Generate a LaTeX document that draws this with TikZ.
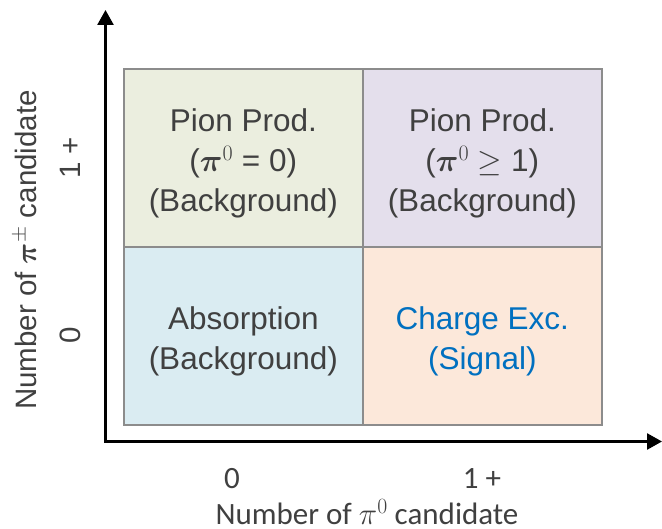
\RequirePackage{fix-cm}
\documentclass[tikz,border=0pt]{standalone}
\usepackage{amsmath,bm}
\usepackage{fontspec}
\setmainfont{Liberation Sans}
\newfontfamily\calfont{Carlito}
\usetikzlibrary{arrows.meta}
\definecolor{txtgrey}{HTML}{404040}
\definecolor{cellborder}{HTML}{8C8C8C}
\definecolor{fillA}{HTML}{EBEEDF}
\definecolor{fillB}{HTML}{E4DFEC}
\definecolor{fillC}{HTML}{DAECF2}
\definecolor{fillD}{HTML}{FCE8DA}
\definecolor{sigblue}{HTML}{0070C0}
\begin{document}
\begin{tikzpicture}[x=1pt,y=-1pt,
  cell/.style={draw=cellborder, line width=1.6pt, minimum width=239pt, minimum height=178pt, inner sep=0pt, anchor=north west},
  celltext/.style={text=txtgrey, align=center, inner sep=0pt, font=\fontsize{31.5}{40}\selectfont},
  axisline/.style={line width=2.6pt, -{Triangle[width=16pt,length=15pt]}},
  ylab/.style={text=txtgrey, rotate=90, inner sep=0pt, font=\fontsize{29.5}{34}\selectfont},
  xlab/.style={text=txtgrey, inner sep=0pt, font=\calfont\fontsize{31}{36}\selectfont}
]
\useasboundingbox (0,0) rectangle (662,529);
% cells
\node[cell, fill=fillA] (c1) at (123,68) {};
\node[cell, fill=fillB] (c2) at (362,68) {};
\node[cell, fill=fillC] (c3) at (123,246) {};
\node[cell, fill=fillD] (c4) at (362,246) {};
\node[celltext] (t1) at ([yshift=-6pt]c1.center) {Pion Prod.\\($\bm{\pi}^0$ = 0)\\(Background)};
\node[celltext] (t2) at ([yshift=-6pt]c2.center) {Pion Prod.\\($\bm{\pi}^0$ $\geq$ 1)\\(Background)};
\node[celltext] (t3) at ([yshift=-6pt]c3.center) {Absorption\\(Background)};
\node[celltext, text=sigblue] (t4) at ([yshift=-6pt]c4.center) {Charge Exc.\\(Signal)};
% axes
\coordinate (o) at (105.5,441.5);
\coordinate (ytip) at (105.5,10);
\coordinate (xtip) at (662,441.5);
\draw[axisline] ([yshift=-1.3pt]o) -- (ytip);
\draw[axisline] ([xshift=-1.3pt]o) -- (xtip);
% axis labels
\node[ylab] (ylabel) at (25,250) {Number of $\bm{\pi}^{\pm}$ candidate};
\node[ylab] (y1) at (70,158) {1 +};
\node[ylab] (y0) at (70,335) {0};
\node[xlab] (x0) at (232,479) {0};
\node[xlab] (x1) at (482,479) {1 +};
\node[xlab] (xlabel) at (367,512) {Number of $\pi^0$ candidate};
\end{tikzpicture}
\end{document}
